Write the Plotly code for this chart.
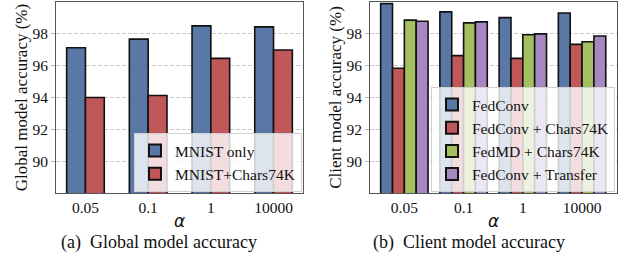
import plotly.graph_objects as go

categories = ["0.05", "0.1", "1", "10000"]

global_names = ["MNIST only", "MNIST+Chars74K"]
global_mnist_only = [97.13, 97.67, 98.50, 98.44]
global_mnist_chars = [94.00, 94.13, 96.46, 96.98]

client_names = ["FedConv", "FedConv + Chars74K", "FedMD + Chars74K", "FedConv + Transfer"]
client_fedconv = [99.90, 99.38, 99.02, 99.31]
client_fedconv_chars = [95.84, 96.63, 96.46, 97.34]
client_fedmd_chars = [98.86, 98.69, 97.94, 97.50]
client_fedconv_transfer = [98.79, 98.75, 98.00, 97.86]

yticks = [90, 92, 94, 96, 98]

colors = ["#5a78a6", "#c0585a", "#a3bf5f", "#a787c0"]
SERIF = "Liberation Serif, Times New Roman, serif"
W, H = 626, 255

fig = go.Figure()

left_series = [global_mnist_only, global_mnist_chars]
for i, (name, vals) in enumerate(zip(global_names, left_series)):
    fig.add_trace(go.Bar(
        x=categories, y=vals, name=name, xaxis="x", yaxis="y",
        width=0.3, offset=-0.3 + 0.3 * i,
        marker=dict(color=colors[i], line=dict(color="#111111", width=1.6)),
        legend="legend",
    ))

right_series = [client_fedconv, client_fedconv_chars, client_fedmd_chars, client_fedconv_transfer]
for i, (name, vals) in enumerate(zip(client_names, right_series)):
    fig.add_trace(go.Bar(
        x=categories, y=vals, name=name, xaxis="x2", yaxis="y2",
        width=0.2, offset=-0.4 + 0.2 * i,
        marker=dict(color=colors[i], line=dict(color="#111111", width=1.6)),
        legend="legend2",
    ))

def px_x(p):
    return p / W

def px_y(p):
    return 1 - p / H

ydom = [px_y(193), px_y(2)]

yaxis_common = dict(
    range=[88, 100], tickvals=yticks, ticktext=[str(v) for v in yticks],
    showgrid=True, gridcolor="#cccccc", griddash="4px,2px", gridwidth=1,
    showline=True, linecolor="#555555", linewidth=1, mirror=True,
    ticks="outside", ticklen=4, tickcolor="#bbbbbb",
    tickfont=dict(family=SERIF, size=15.5, color="#111111"),
    zeroline=False,
)
xaxis_common = dict(
    type="category", showgrid=False,
    showline=True, linecolor="#555555", linewidth=1, mirror=True,
    ticks="", tickfont=dict(family=SERIF, size=15.5, color="#111111"),
    zeroline=False,
)

legend_common = dict(
    bgcolor="rgba(255,255,255,0.8)", bordercolor="#d0d0d0", borderwidth=1,
    font=dict(family=SERIF, size=15.5, color="#111111"),
    xanchor="right", yanchor="bottom", tracegroupgap=0, itemsizing="constant",
)

fig.update_layout(
    width=W, height=H, margin=dict(l=0, r=0, t=0, b=0),
    plot_bgcolor="white", paper_bgcolor="white",
    barmode="overlay", showlegend=True,
    xaxis=dict(domain=[px_x(56), px_x(303)], anchor="y", range=[-0.47, 3.47], **xaxis_common),
    yaxis=dict(domain=ydom, anchor="x",
               title=dict(text="Global model accuracy (%)", standoff=0,
                          font=dict(family=SERIF, size=17, color="#111111")),
               **yaxis_common),
    xaxis2=dict(domain=[px_x(370), px_x(617)], anchor="y2", range=[-0.58, 3.59], **xaxis_common),
    yaxis2=dict(domain=ydom, anchor="x2",
                title=dict(text="Client model accuracy (%)", standoff=0,
                           font=dict(family=SERIF, size=17, color="#111111")),
                **yaxis_common),
    legend=dict(x=px_x(302), y=px_y(192), **legend_common),
    legend2=dict(x=px_x(615), y=px_y(192), **legend_common),
)

for cx in [(56 + 303) / 2, (370 + 617) / 2]:
    fig.add_annotation(x=px_x(cx), y=px_y(221), xref="paper", yref="paper",
                       text="<i>α</i>", showarrow=False,
                       font=dict(family="DejaVu Sans", size=17, color="#111111"),
                       xanchor="center", yanchor="middle")

fig.add_annotation(x=px_x(159), y=px_y(242), xref="paper", yref="paper",
                   text="(a)  Global model accuracy", showarrow=False,
                   font=dict(family=SERIF, size=18, color="#111111"),
                   xanchor="center", yanchor="middle")
fig.add_annotation(x=px_x(469), y=px_y(242), xref="paper", yref="paper",
                   text="(b)  Client model accuracy", showarrow=False,
                   font=dict(family=SERIF, size=18, color="#111111"),
                   xanchor="center", yanchor="middle")

fig.write_html("out.html", config={"displayModeBar": False},
               post_script="document.body.style.margin='0px';document.body.style.overflow='hidden';")
